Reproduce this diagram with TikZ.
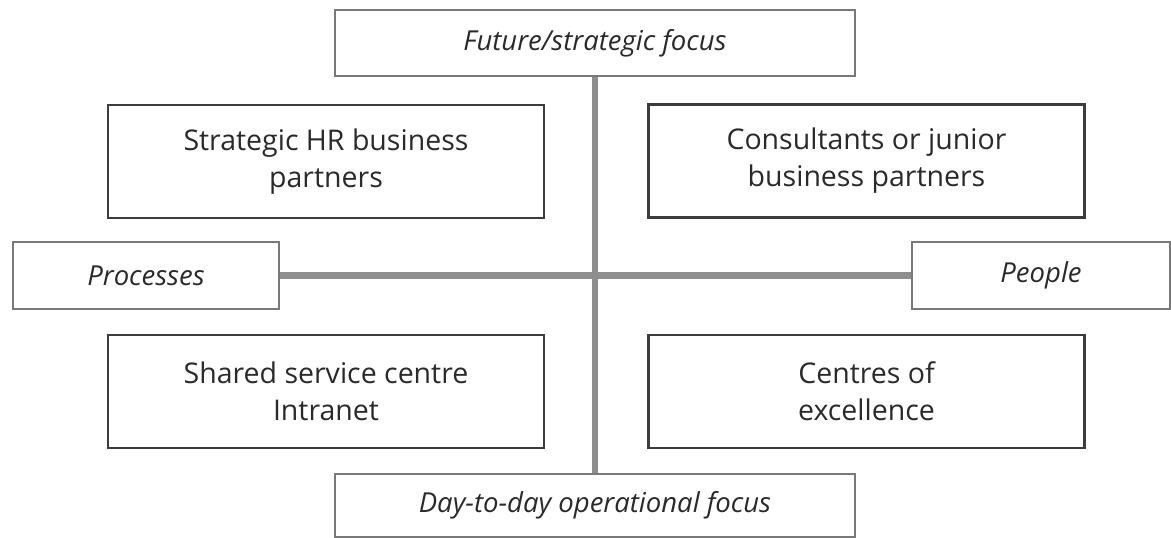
\documentclass[tikz,border=0pt]{standalone}
\usepackage{fontspec}
\setmainfont{Open Sans}
\begin{document}
\begin{tikzpicture}[x=1pt,y=-1pt,
  labelbox/.style={draw=axisgray!85!black, line width=1.8pt, fill=white, inner sep=0pt,
    font=\fontsize{27.5}{32}\selectfont\itshape, text=textgray},
  contentbox/.style={draw=boxdark, line width=2.6pt, fill=white, inner sep=0pt, align=center,
    minimum width=436pt, minimum height=113pt,
    font=\fontsize{28.5}{37}\selectfont, text=textgray},
  axis/.style={draw=axisgray, line width=6.5pt}
]
\definecolor{axisgray}{HTML}{8E8E8E}
\definecolor{boxdark}{HTML}{3C3C3C}
\definecolor{textgray}{HTML}{2A2A2A}
\useasboundingbox (0,0) rectangle (1171,538);

\node[labelbox, minimum width=520pt, minimum height=66pt] (top) at (595,43) {Future/strategic focus};
\node[labelbox, minimum width=520pt, minimum height=63pt] (bottom) at (595,505.5) {Day-to-day operational focus};
\node[labelbox, minimum width=266pt, minimum height=67pt] (proc) at (146,275.5) {Processes};
\node[labelbox, minimum width=258pt, minimum height=67pt] (people) at (1041,275.5) {People};

\node[contentbox] (shr) at (326,161.5) {Strategic HR business\\partners};
\node[contentbox] (cons) at (866.5,161) {Consultants or junior\\business partners};
\node[contentbox] (ssc) at (326,391.5) {Shared service centre\\Intranet};
\node[contentbox] (coe) at (866.5,391.5) {Centres of\\excellence};

\draw[axis] (top.south) -- (bottom.north);
\draw[axis] (proc.east) -- (people.west);
\end{tikzpicture}
\end{document}
